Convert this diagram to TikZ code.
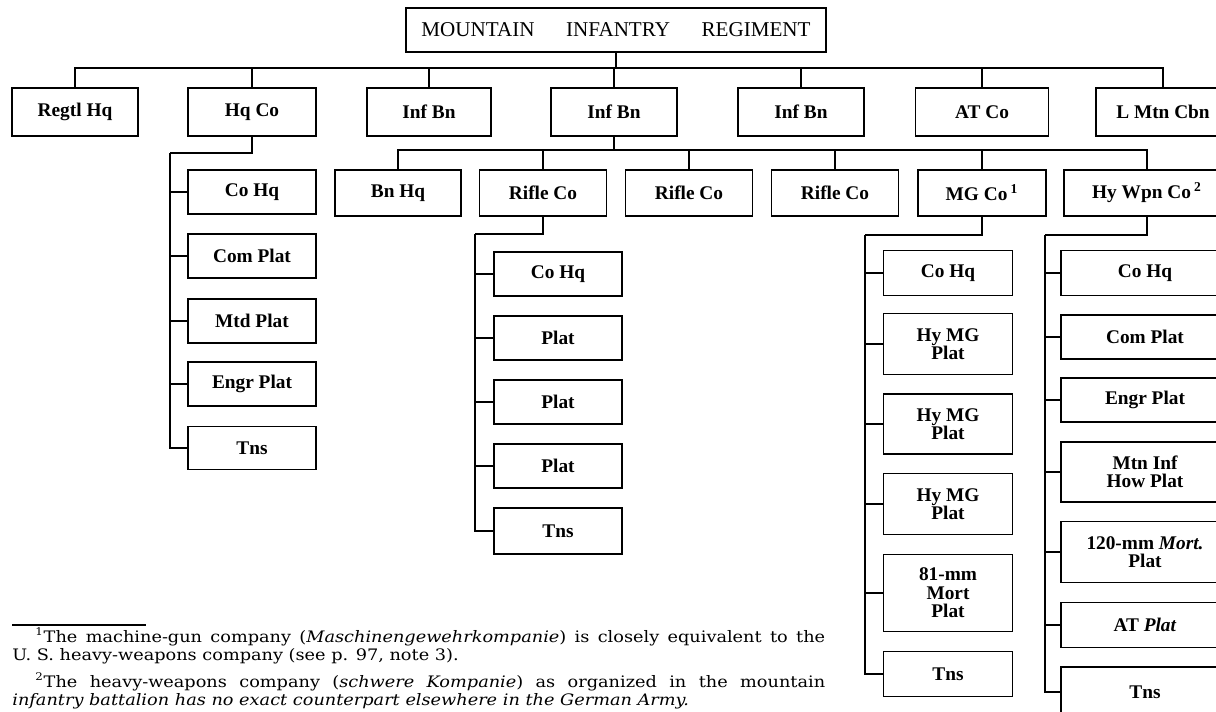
\documentclass[tikz,border=0pt]{standalone}
\usepackage{fontspec}
\setmainfont{Liberation Serif}
\newfontfamily\notefont[FakeStretch=1.12]{DejaVu Serif}

\begin{document}
\begin{tikzpicture}[x=0.02cm,y=-0.02cm,
  bx/.style={draw,line width=1.1pt,inner sep=1pt,align=center,
             font=\bfseries\fontsize{11}{10.5}\selectfont},
  wd/.style={minimum width=#1*0.02cm},
  ht/.style={minimum height=#1*0.02cm},
  ln/.style={line width=0.9pt},
  fn/.style={anchor=base west,inner sep=0pt,font=\notefont\fontsize{9}{10}\selectfont}]
\useasboundingbox (0,0) rectangle (1216,712);
% regiment
\node[bx,wd=420,ht=44,font=\fontsize{12}{12}\selectfont] (reg) at (616,30)
  {MOUNTAIN\hspace{18pt}INFANTRY\hspace{18pt}REGIMENT};
\node[bx,wd=126,ht=48] (rhq)  at (75,112)   {Regtl Hq};
\node[bx,wd=128,ht=48] (hqco) at (252,112)  {Hq Co};
\node[bx,wd=124,ht=48] (bna)  at (429,112)  {Inf Bn};
\node[bx,wd=126,ht=48] (bnb)  at (614,112)  {Inf Bn};
\node[bx,wd=126,ht=48] (bnc)  at (801,112)  {Inf Bn};
\node[bx,wd=133,ht=48] (atco) at (982,112)  {AT Co};
\node[bx,wd=134,ht=48] (cbn)  at (1163,112) {L Mtn Cbn};
\coordinate (bus1) at (616,68);
\draw[ln] (reg.south) -- (bus1);
\foreach \n in {rhq,hqco,bna,bnb,bnc,atco,cbn} \draw[ln] (bus1) -| (\n.north);
% battalion
\node[bx,wd=126,ht=46] (bnhq) at (398,193)  {Bn Hq};
\node[bx,wd=127,ht=46] (rca)  at (543,193)  {Rifle Co};
\node[bx,wd=127,ht=46] (rcb)  at (689,193)  {Rifle Co};
\node[bx,wd=127,ht=46] (rcc)  at (835,193)  {Rifle Co};
\node[bx,wd=128,ht=46] (mgco) at (982,193)  {MG Co\,\textsuperscript{1}};
\node[bx,wd=166,ht=46] (hwco) at (1147,193) {Hy Wpn Co\,\textsuperscript{2}};
\coordinate (bus2) at (614,150);
\draw[ln] (bnb.south) -- (bus2);
\foreach \n in {bnhq,rca,rcb,rcc,mgco,hwco} \draw[ln] (bus2) -| (\n.north);
% hq company
\node[bx,wd=128,ht=44] (hq1) at (252,192) {Co Hq};
\node[bx,wd=128,ht=44] (hq2) at (252,256) {Com Plat};
\node[bx,wd=128,ht=44] (hq3) at (252,321) {Mtd Plat};
\node[bx,wd=128,ht=44] (hq4) at (252,384) {Engr Plat};
\node[bx,wd=128,ht=43] (hq5) at (252,448) {Tns};
\coordinate (hqsp) at (170,153);
\draw[ln] (hqco.south) |- (hqsp);
\foreach \n in {hq1,hq2,hq3,hq4,hq5} \draw[ln] (hqsp) |- (\n.west);
% rifle company
\node[bx,wd=128,ht=44] (r1) at (558,274) {Co Hq};
\node[bx,wd=128,ht=44] (r2) at (558,338) {Plat};
\node[bx,wd=128,ht=44] (r3) at (558,402) {Plat};
\node[bx,wd=128,ht=44] (r4) at (558,466) {Plat};
\node[bx,wd=128,ht=46] (r5) at (558,531) {Tns};
\coordinate (rsp) at (475,234);
\draw[ln] (rca.south) |- (rsp);
\foreach \n in {r1,r2,r3,r4,r5} \draw[ln] (rsp) |- (\n.west);
% machine-gun company
\node[bx,wd=129,ht=45] (m1) at (948,273) {Co Hq};
\node[bx,wd=129,ht=61] (m2) at (948,344) {Hy MG\\Plat};
\node[bx,wd=129,ht=60] (m3) at (948,424) {Hy MG\\Plat};
\node[bx,wd=129,ht=61] (m4) at (948,504) {Hy MG\\Plat};
\node[bx,wd=129,ht=77] (m5) at (948,593) {81-mm\\Mort\\Plat};
\node[bx,wd=129,ht=45] (m6) at (948,674) {Tns};
\coordinate (msp) at (865,235);
\draw[ln] (mgco.south) |- (msp);
\foreach \n in {m1,m2,m3,m4,m5,m6} \draw[ln] (msp) |- (\n.west);
% heavy-weapons company
\node[bx,wd=168,ht=45] (w1) at (1145,273) {Co Hq};
\node[bx,wd=168,ht=44] (w2) at (1145,337) {Com Plat};
\node[bx,wd=168,ht=44] (w3) at (1145,400) {Engr Plat};
\node[bx,wd=168,ht=60] (w4) at (1145,472) {Mtn Inf\\How Plat};
\node[bx,wd=168,ht=61] (w5) at (1145,552) {120-mm \textit{Mort.}\\Plat};
\node[bx,wd=168,ht=45] (w6) at (1145,625) {AT \textit{Plat}};
\node[bx,wd=168,ht=50] (w7) at (1145,692) {Tns};
\coordinate (wsp) at (1045,235);
\draw[ln] (hwco.south) |- (wsp);
\foreach \n in {w1,w2,w3,w4,w5,w6,w7} \draw[ln] (wsp) |- (\n.west);
% notes
\draw[line width=1.2pt] (12,625) -- (146,625);
\node[fn] (fna) at (35,642) {\makebox[15.8cm][s]{\textsuperscript{1}The machine-gun company
  (\textit{Maschinengewehrkompanie}) is closely equivalent to the}};
\node[fn] (fnb) at (12,660) {U. S. heavy-weapons company (see p. 97, note 3).};
\node[fn] (fnc) at (35,687) {\makebox[15.8cm][s]{\textsuperscript{2}The heavy-weapons company
  (\textit{schwere Kompanie}) as organized in the mountain}};
\node[fn] (fnd) at (12,705) {\itshape infantry battalion has no exact counterpart elsewhere in the German Army.};
\end{tikzpicture}
\end{document}
